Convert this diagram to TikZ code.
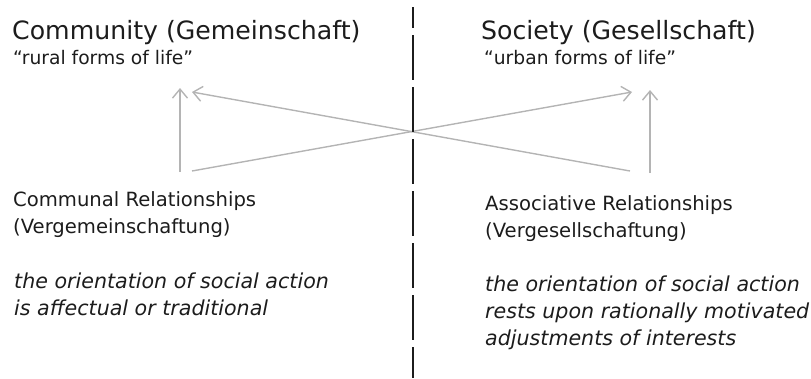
\documentclass[tikz,border=0pt]{standalone}
\usepackage{fontspec}
\setmainfont{DejaVu Sans}
\usetikzlibrary{arrows.meta}
\definecolor{arrowgray}{HTML}{B4B4B4}
\definecolor{textblack}{HTML}{1C1C1C}
\tikzset{
  heading/.style={anchor=base west,inner sep=0pt,text=textblack,font=\fontsize{25.2}{30}\selectfont},
  quoted/.style={anchor=base west,inner sep=0pt,text=textblack,font=\fontsize{18.7}{22}\selectfont},
  relation/.style={anchor=base west,inner sep=0pt,text=textblack,font=\fontsize{19.6}{24}\selectfont},
  orient/.style={anchor=base west,inner sep=0pt,text=textblack,font=\fontsize{20.6}{24}\selectfont\itshape},
  link/.style={draw=arrowgray,line width=1.4pt,-{Straight Barb[length=9pt,width=15pt]}}
}
\begin{document}
\begin{tikzpicture}[x=1pt,y=-1pt]
    \useasboundingbox (0,0) rectangle (811,378);
    % left side
    \node[heading] (comm) at (12,39.5) {Community (Gemeinschaft)};
    \node[quoted] (rural) at (13,64.5) {“rural forms of life”};
    \node[relation] (commrel) at (13,206) {Communal Relationships};
    \node[relation] (vergem) at (13,233) {(Vergemeinschaftung)};
    \node[orient] (affect1) at (14,288) {the orientation of social action};
    \node[orient] (affect2) at (14,315) {is affectual or traditional};
    % right side
    \node[heading] (soc) at (481,39.5) {Society (Gesellschaft)};
    \node[quoted] (urban) at (484,64.5) {“urban forms of life”};
    \node[relation] (assrel) at (485,210) {Associative Relationships};
    \node[relation] (verges) at (485,237) {(Vergesellschaftung)};
    \node[orient] (ration1) at (485,291) {the orientation of social action};
    \node[orient] (ration2) at (485,318) {rests upon rationally motivated};
    \node[orient] (ration3) at (485,345) {adjustments of interests};
    % arrow ends
    \coordinate (commUp) at (180,88);
    \coordinate (commLow) at (180,172);
    \coordinate (commIn) at (192,92);
    \coordinate (commOut) at (192,171);
    \coordinate (socUp) at (650,90);
    \coordinate (socLow) at (650,173);
    \coordinate (socIn) at (632,92);
    \coordinate (socOut) at (630,171);
    \draw[link] (commLow) -- (commUp);
    \draw[link] (socLow) -- (socUp);
    \draw[link] (commOut) -- (socIn);
    \draw[link] (socOut) -- (commIn);
    % divider
    \coordinate (divTop) at (413,7);
    \coordinate (divBot) at (413,378);
    \draw[textblack,line width=2pt,dash pattern=on 45pt off 7pt,dash phase=24pt] (divTop) -- (divBot);
\end{tikzpicture}
\end{document}
